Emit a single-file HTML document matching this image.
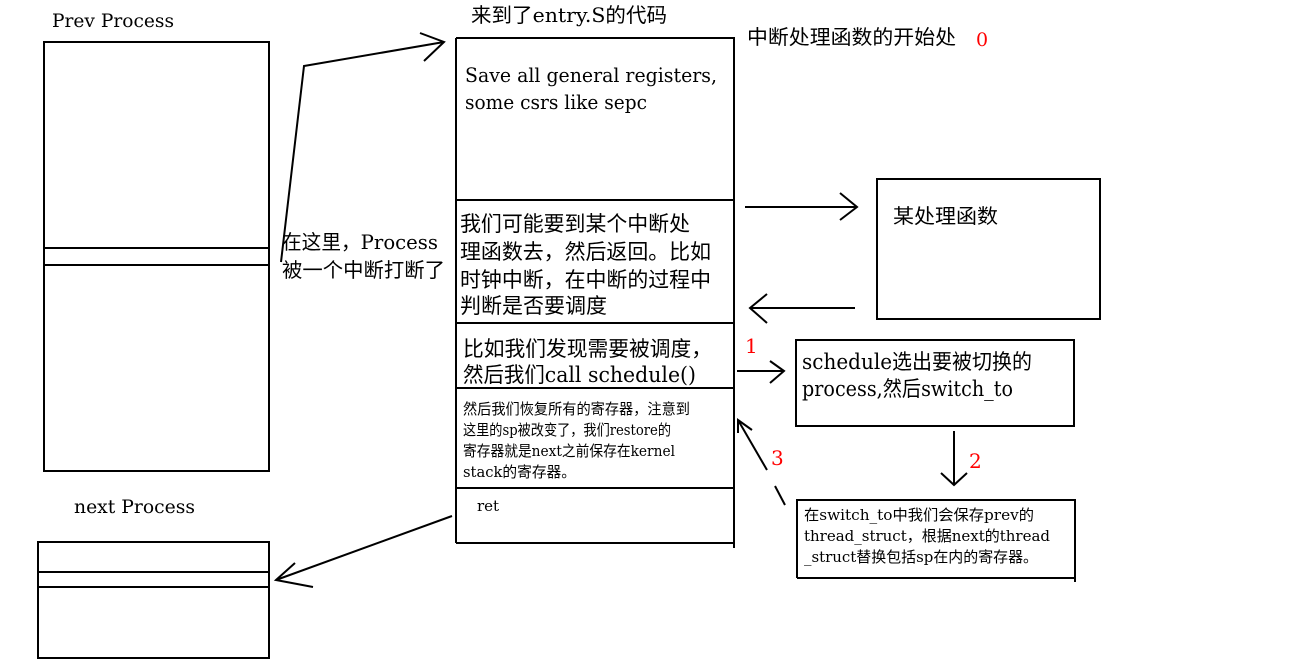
<!DOCTYPE html>
<html><head><meta charset="utf-8"><style>
html,body{margin:0;padding:0;background:#fff;}
svg{display:block}
text{font-family:"DejaVu Serif","Noto Sans CJK SC",serif;fill:#000}
</style></head><body>
<svg width="1304" height="668" viewBox="0 0 1304 668" xmlns="http://www.w3.org/2000/svg">
<g stroke="#000" stroke-width="2" fill="none">
<rect x="44" y="42" width="225" height="429"/>
<line x1="44" y1="248" x2="269" y2="248"/><line x1="44" y1="265" x2="269" y2="265"/>
<rect x="38" y="542" width="231" height="116"/>
<line x1="38" y1="572" x2="269" y2="572"/><line x1="38" y1="587" x2="269" y2="587"/>
<polyline points="456,38 734,38 734,548"/>
<line x1="456" y1="38" x2="456" y2="543"/>
<line x1="456" y1="200" x2="734" y2="200"/>
<line x1="456" y1="323" x2="734" y2="323"/>
<line x1="456" y1="388" x2="734" y2="388"/>
<line x1="456" y1="488" x2="734" y2="488"/>
<line x1="456" y1="543" x2="734" y2="543"/>
<rect x="877" y="179" width="223" height="140"/>
<rect x="796" y="340" width="278" height="86"/>
<polyline points="797,578 797,500 1075,500 1075,582"/>
<line x1="797" y1="578" x2="1075" y2="578"/>
<polyline points="281,262 304,66 444,42"/>
<polyline points="420,33 444,42 424,61"/>
<line x1="745" y1="207" x2="857" y2="207"/><polyline points="840,193 857,207 840,220"/>
<line x1="750" y1="308" x2="855" y2="308"/><polyline points="767,294 750,308 767,323"/>
<line x1="737" y1="371" x2="784" y2="371"/><polyline points="770,361 784,371 770,383"/>
<line x1="954" y1="431" x2="954" y2="485"/><polyline points="941,473 954,485 967,473"/>
<line x1="738" y1="420" x2="767" y2="470"/><line x1="775" y1="486" x2="785" y2="505"/>
<polyline points="738,433 738,420 752,430"/>
<line x1="452" y1="516" x2="276" y2="580"/><polyline points="295,563 276,580 313,587"/>
</g>
<g>
<text x="52" y="27" font-size="19" textLength="122" lengthAdjust="spacingAndGlyphs">Prev Process</text>
<text x="74" y="513" font-size="19" textLength="121" lengthAdjust="spacingAndGlyphs">next Process</text>
<text x="471" y="22" font-size="20" textLength="196" lengthAdjust="spacingAndGlyphs">来到了entry.S的代码</text>
<text x="747" y="44" font-size="20" textLength="209" lengthAdjust="spacingAndGlyphs">中断处理函数的开始处</text>
<text x="976" y="46" font-size="19" style="fill:#f00">0</text>
<text x="465" y="82" font-size="20" textLength="252" lengthAdjust="spacingAndGlyphs">Save all general registers,</text>
<text x="465" y="109" font-size="20" textLength="182" lengthAdjust="spacingAndGlyphs">some csrs like sepc</text>
<text x="282" y="249" font-size="20" textLength="156" lengthAdjust="spacingAndGlyphs">在这里，Process</text>
<text x="282" y="277" font-size="20" textLength="163" lengthAdjust="spacingAndGlyphs">被一个中断打断了</text>
<text font-size="21"><tspan x="460" y="231" textLength="230" lengthAdjust="spacingAndGlyphs">我们可能要到某个中断处</tspan><tspan x="460" y="259" textLength="251" lengthAdjust="spacingAndGlyphs">理函数去，然后返回。比如</tspan><tspan x="460" y="287" textLength="251" lengthAdjust="spacingAndGlyphs">时钟中断，在中断的过程中</tspan><tspan x="460" y="313" textLength="147" lengthAdjust="spacingAndGlyphs">判断是否要调度</tspan></text>
<text x="893" y="223" font-size="20" textLength="105" lengthAdjust="spacingAndGlyphs">某处理函数</text>
<text font-size="21"><tspan x="463" y="356" textLength="249" lengthAdjust="spacingAndGlyphs">比如我们发现需要被调度，</tspan><tspan x="463" y="382" textLength="233" lengthAdjust="spacingAndGlyphs">然后我们call schedule()</tspan></text>
<text x="745" y="353" font-size="20" style="fill:#f00">1</text>
<text x="969" y="468" font-size="20" style="fill:#f00">2</text>
<text x="771" y="465" font-size="20" style="fill:#f00">3</text>
<text font-size="21"><tspan x="802" y="369" textLength="230" lengthAdjust="spacingAndGlyphs">schedule选出要被切换的</tspan><tspan x="802" y="396" textLength="211" lengthAdjust="spacingAndGlyphs">process,然后switch_to</tspan></text>
<text font-size="15"><tspan x="463" y="414" textLength="227" lengthAdjust="spacingAndGlyphs">然后我们恢复所有的寄存器，注意到</tspan><tspan x="463" y="435" textLength="208" lengthAdjust="spacingAndGlyphs">这里的sp被改变了，我们restore的</tspan><tspan x="463" y="456" textLength="212" lengthAdjust="spacingAndGlyphs">寄存器就是next之前保存在kernel</tspan><tspan x="463" y="477" textLength="113" lengthAdjust="spacingAndGlyphs">stack的寄存器。</tspan></text>
<text x="477" y="511" font-size="15">ret</text>
<text font-size="15"><tspan x="804" y="520" textLength="230" lengthAdjust="spacingAndGlyphs">在switch_to中我们会保存prev的</tspan><tspan x="804" y="541" textLength="246" lengthAdjust="spacingAndGlyphs">thread_struct，根据next的thread</tspan><tspan x="804" y="562" textLength="234" lengthAdjust="spacingAndGlyphs">_struct替换包括sp在内的寄存器。</tspan></text>
</g>
</svg>
</body></html>
